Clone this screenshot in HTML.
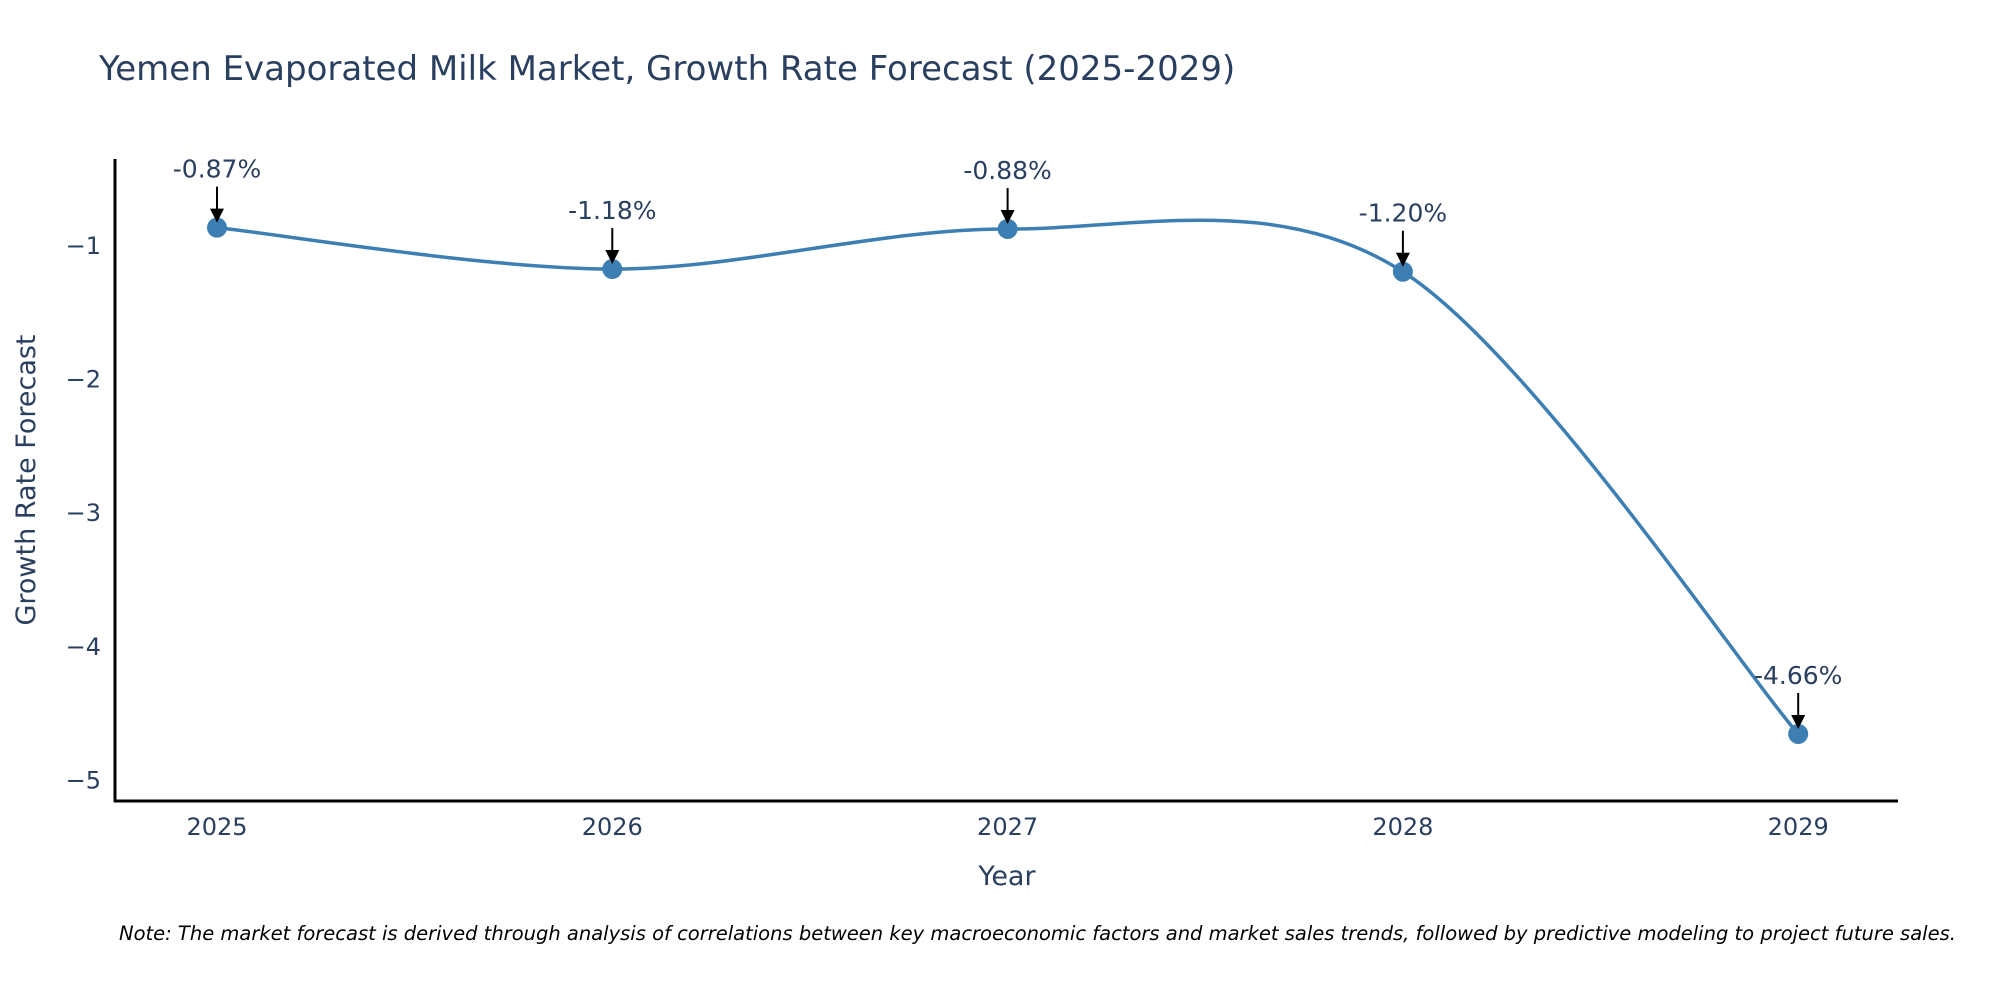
<!DOCTYPE html>
<html><head><meta charset="utf-8"><style>
body{margin:0;background:#fff;}
svg{display:block;font-family:"DejaVu Sans","Liberation Sans",sans-serif;}
</style></head><body>
<svg id="chart" width="2000" height="1000" viewBox="0 0 2000 1000" xmlns="http://www.w3.org/2000/svg">
<text x="99" y="80" font-size="34" fill="#2a3f5f">Yemen Evaporated Milk Market, Growth Rate Forecast (2025-2029)</text>
<g id="yticks"></g>
<g id="xticks"></g>
<g id="series"></g>
<g id="annots"></g>
<line x1="115" y1="159" x2="115" y2="802" stroke="#000" stroke-width="3"/>
<line x1="114" y1="801" x2="1898" y2="801" stroke="#000" stroke-width="3"/>
<text x="1007" y="885" font-size="27" fill="#2a3f5f" text-anchor="middle">Year</text>
<text transform="translate(35,480) rotate(-90)" font-size="27" fill="#2a3f5f" text-anchor="middle">Growth Rate Forecast</text>
<text x="119" y="940" font-size="19.5" font-style="italic" fill="#000">Note: The market forecast is derived through analysis of correlations between key macroeconomic factors and market sales trends, followed by predictive modeling to project future sales.</text>
</svg>
<script>
const years = [2025, 2026, 2027, 2028, 2029];
const growth = [-0.87, -1.18, -0.88, -1.20, -4.66];
const labels = ["-0.87%", "-1.18%", "-0.88%", "-1.20%", "-4.66%"];
const yTicks = [-1, -2, -3, -4, -5];

const NS = "http://www.w3.org/2000/svg";
function xs(v){ return 217 + (v - 2025) * 395.3; }
function ys(v){ return 245 + (-1 - v) * 133.6; }
function mk(tag, attrs, parent){ const e=document.createElementNS(NS,tag); for(const k in attrs) e.setAttribute(k,attrs[k]); parent.appendChild(e); return e; }

const yg=document.getElementById('yticks');
yTicks.forEach(t=>{
  const e=mk('text',{x:101,y:ys(t)+9,'font-size':24,fill:'#2a3f5f','text-anchor':'end'},yg);
  
  
  e.textContent='\u2212'+Math.abs(t);
});
const xg=document.getElementById('xticks');
years.forEach(y=>{
  const e=mk('text',{x:xs(y),y:835,'font-size':24,fill:'#2a3f5f','text-anchor':'middle'},xg);
  
  
  e.textContent=String(y);
});

const sg=document.getElementById('series');
const P=years.map((y,i)=>[xs(y),ys(growth[i])]);
let d='M'+P[0][0]+','+P[0][1];
const k=0.16;
for(let i=0;i<P.length-1;i++){
  const p0=P[Math.max(i-1,0)],p1=P[i],p2=P[i+1],p3=P[Math.min(i+2,P.length-1)];
  const c1=[p1[0]+(p2[0]-p0[0])*k,p1[1]+(p2[1]-p0[1])*k];
  const c2=[p2[0]-(p3[0]-p1[0])*k,p2[1]-(p3[1]-p1[1])*k];
  d+=' C'+c1[0]+','+c1[1]+' '+c2[0]+','+c2[1]+' '+p2[0]+','+p2[1];
}
const path=mk('path',{d:d,fill:'none',stroke:'#3d7fb3','stroke-width':3.5},sg);


P.forEach((p,i)=>{
  const c=mk('circle',{cx:p[0],cy:p[1],r:10,fill:'#3d7fb3'},sg);
  
  
});

const ag=document.getElementById('annots');
P.forEach((p,i)=>{
  const l=mk('line',{x1:p[0],y1:p[1]-41,x2:p[0],y2:p[1]-18,stroke:'#000','stroke-width':2},ag);
  
  
  const h=mk('polygon',{points:(p[0]-7)+','+(p[1]-19)+' '+(p[0]+7)+','+(p[1]-19)+' '+p[0]+','+(p[1]-5),fill:'#000'},ag);
  
  
  const t=mk('text',{x:p[0],y:p[1]-50,'font-size':25,fill:'#2a3f5f','text-anchor':'middle'},ag);
  
  
  t.textContent=labels[i];
});
</script>
</body></html>
